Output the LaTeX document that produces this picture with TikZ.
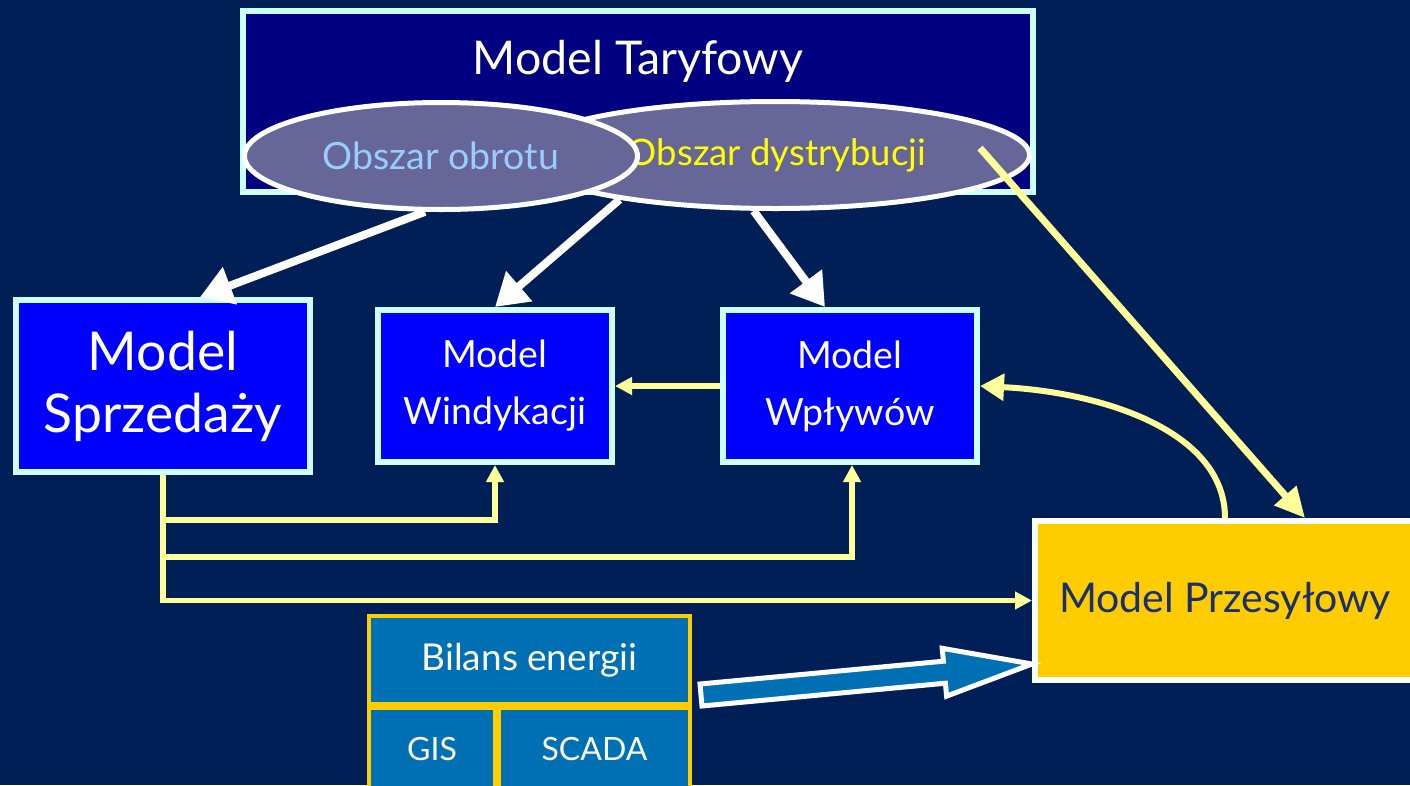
\documentclass[tikz,border=0pt]{standalone}
\usepackage{fontspec}
\setmainfont{Lato}
\usetikzlibrary{arrows.meta,shapes.geometric,calc}
\definecolor{bg}{HTML}{001F56}
\definecolor{navyf}{HTML}{000080}
\definecolor{cyanb}{HTML}{CCFFFF}
\definecolor{ellf}{HTML}{666699}
\definecolor{lblue}{HTML}{99CCFF}
\definecolor{yelt}{HTML}{FFFF00}
\definecolor{blueb}{HTML}{0000FF}
\definecolor{yel}{HTML}{FFFF99}
\definecolor{gold}{HTML}{FFCC00}
\definecolor{tbl}{HTML}{0070B5}
\definecolor{przt}{HTML}{1A2F6E}
\begin{document}
\begin{tikzpicture}[x=1pt,y=-1pt,
  box/.style={draw=cyanb, line width=6pt, fill=blueb, text=white, align=center, inner sep=0pt},
  ell/.style={ellipse, draw=white, line width=5pt, fill=ellf, inner sep=0pt},
  warr/.style={draw=white, line width=8pt, -{Triangle[length=32pt,width=38pt]}},
  yarr/.style={draw=yel, line width=5.5pt, -{Triangle[length=17pt,width=17pt]}},
  ydiag/.style={draw=yel, line width=7pt, -{Triangle[length=30pt,width=28pt]}},
  ycurve/.style={draw=yel, line width=6pt, -{Triangle[length=24pt,width=26pt]}},
  cell/.style={draw=gold, line width=4pt, fill=tbl, text=white, inner sep=0pt}]
\useasboundingbox[fill=bg] (0,0) rectangle (1410,785);

\node[box, fill=navyf, minimum width=790pt, minimum height=181pt] (tar) at (638,101.5) {};
\node[text=white, font=\fontsize{46.5}{50}\selectfont] (tart) at (638,61) {Model Taryfowy};
\node[ell, minimum width=509pt, minimum height=107pt, text=yelt, font=\fontsize{36.5}{40}\selectfont] (dys) at (775,155) {\hspace*{4pt}Obszar dystrybucji};
\node[ell, minimum width=393pt, minimum height=107pt, text=lblue, font=\fontsize{37.5}{40}\selectfont] (obr) at (441,156) {Obszar obrotu};

\node[box, minimum width=294pt, minimum height=172pt, font=\fontsize{53.5}{62}\selectfont] (spr) at (163,386) {Model\\Sprzedaży};
\node[box, minimum width=234pt, minimum height=152pt, font=\fontsize{37.5}{57}\selectfont] (win) at (495,386) {Model\\Windykacji};
\node[box, minimum width=254pt, minimum height=152pt, font=\fontsize{37.5}{57}\selectfont] (wpl) at (850,386) {Model\\Wpływów};
\node[draw=white, line width=6pt, fill=gold, text=przt, inner sep=0pt, minimum width=380pt, minimum height=159pt, font=\fontsize{41}{44}\selectfont] (prz) at (1225,600.5) {Model Przesyłowy};

\node[cell, minimum width=321pt, minimum height=88pt, font=\fontsize{37}{40}\selectfont] (bil) at (529.5,660) {Bilans energii};
\node[cell, minimum width=126pt, minimum height=82pt, font=\fontsize{32}{36}\selectfont] (gis) at (432,749) {GIS};
\node[cell, minimum width=191pt, minimum height=82pt, font=\fontsize{32}{36}\selectfont] (sca) at (594.5,749) {SCADA};

\draw[warr] (obr.-106) -- ($(spr.north)+(37,0)$);
\draw[warr] (dys.-164) -- (win.north);
\draw[warr] (dys.-111) -- ($(wpl.north)+(-25,0)$);
\coordinate (ys) at ($(dys.center)+(205,-7)$);
\draw[ydiag] (ys) -- ($(prz.north)+(80,0)$);
\draw[yarr] (wpl.west) -- (win.east);
\draw[yarr] (spr.south) |- ($(win.south)+(0,55)$) -- (win.south);
\draw[yarr] (spr.south) |- ($(wpl.south)+(2,92)$) -- ($(wpl.south)+(2,0)$);
\draw[yarr] (spr.south) |- (prz.west);
\draw[ycurve] (prz.north) .. controls ($(prz.north)+(0,-88)$) and ($(wpl.east)+(120,6)$) .. (wpl.east);

\draw[draw=white, line width=5pt, fill=tbl, line join=miter]
  (700,684) -- (943.4,661.2) -- (942.2,648.3) -- (1032,664) -- (946.6,696.1) -- (945.4,683.2) -- (702,706) -- cycle;
\end{tikzpicture}
\end{document}
